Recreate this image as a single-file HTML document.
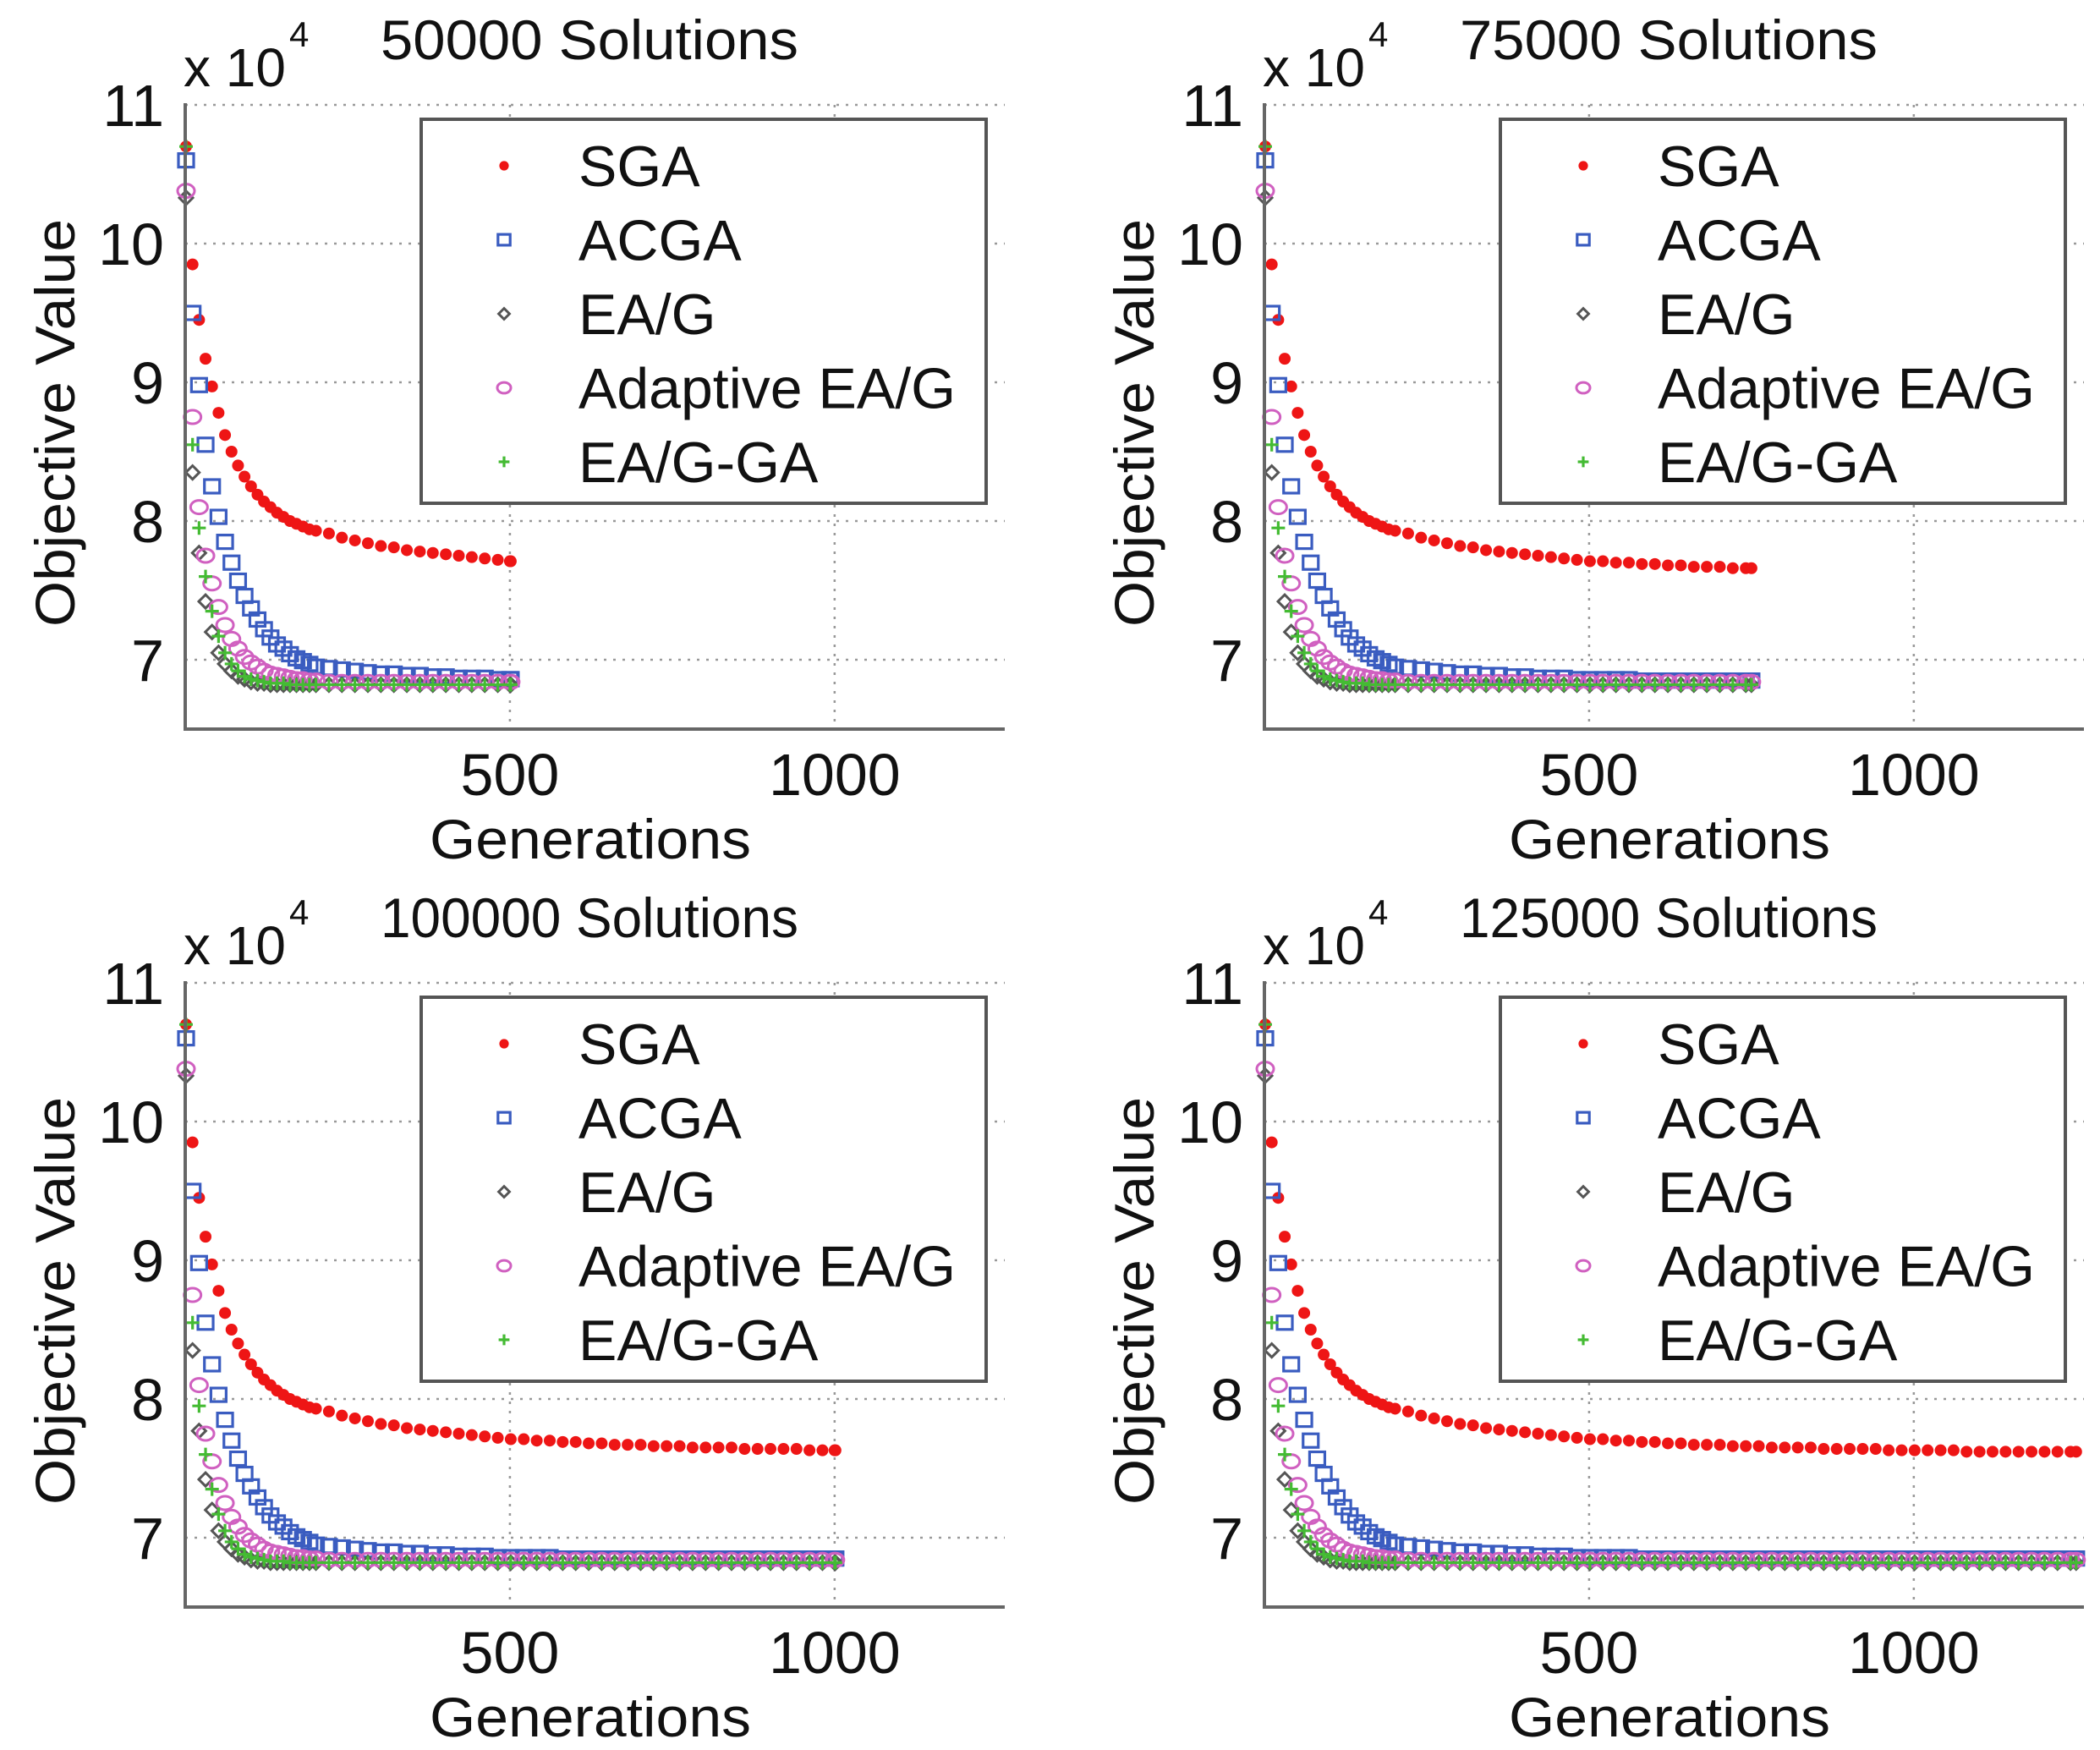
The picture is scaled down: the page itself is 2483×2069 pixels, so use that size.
<!DOCTYPE html>
<html><head><meta charset="utf-8"><style>
html,body{margin:0;padding:0;background:#fff;}
svg{display:block;font-family:"Liberation Sans",Arial,sans-serif;}
</style></head><body>
<svg id="chart" width="2483" height="2069" viewBox="0 0 2483 2069" xmlns="http://www.w3.org/2000/svg"></svg>
<script>
// ---- data ----
const panelTitles = ["50000 Solutions","75000 Solutions","100000 Solutions","125000 Solutions"];
const panelMaxGen = [500, 750, 1000, 1250];
const seriesNames = ["SGA","ACGA","EA/G","Adaptive EA/G","EA/G-GA"];
const yTicks = [7,8,9,10,11];
const xTicks = [500,1000];
// generations: 0..200 step 10, then 220..1240 step 20
const headGens = [0,10,20,30,40,50,60,70,80,90,100,110,120,130,140,150,160,170,180,190,200];
const sgaVals = [10.70,9.85,9.45,9.17,8.97,8.78,8.62,8.50,8.40,8.32,8.25,8.19,8.14,8.10,8.06,8.03,8.00,7.98,7.96,7.94,7.93,
 7.91,7.88,7.86,7.84,7.82,7.81,7.79,7.78,7.77,7.76,7.75,7.74,7.73,7.72,7.71,7.71,7.70,7.70,7.69,7.69,
 7.68,7.68,7.67,7.67,7.67,7.66,7.66,7.66,7.65,7.65,7.65,7.65,7.64,7.64,7.64,7.64,7.64,7.63,7.63,7.63,
 7.63,7.63,7.63,7.62,7.62,7.62,7.62,7.62,7.62,7.62,7.62,7.62];
const acgaVals = [10.60,9.50,8.98,8.55,8.25,8.03,7.85,7.70,7.57,7.46,7.37,7.29,7.22,7.16,7.11,7.08,7.04,7.01,6.99,6.97,6.95,
 6.94,6.93,6.92,6.91,6.90,6.90,6.89,6.89,6.88,6.88,6.87,6.87,6.87,6.86,6.86,6.86,6.86,6.86,6.85,6.85,
 6.85,6.85,6.85,6.85,6.85,6.85,6.85,6.85,6.85,6.85,6.85,6.85,6.85,6.85,6.85,6.85,6.85,6.85,6.85,6.85,
 6.85,6.85,6.85,6.85,6.85,6.85,6.85,6.85,6.85,6.85,6.85,6.85];
const eagVals = [10.33,8.35,7.77,7.42,7.20,7.05,6.97,6.92,6.88,6.86,6.84,6.83,6.83,6.82,6.82,6.82,6.82,6.82,6.82,6.82,6.82,
 6.82,6.82,6.82,6.82,6.82,6.82,6.82,6.82,6.82,6.82,6.82,6.82,6.82,6.82,6.82,6.82,6.82,6.82,6.82,6.82,
 6.82,6.82,6.82,6.82,6.82,6.82,6.82,6.82,6.82,6.82,6.82,6.82,6.82,6.82,6.82,6.82,6.82,6.82,6.82,6.82,
 6.82,6.82,6.82,6.82,6.82,6.82,6.82,6.82,6.82,6.82,6.82,6.82];
const adaptVals = [10.38,8.75,8.10,7.75,7.55,7.38,7.25,7.15,7.08,7.02,6.98,6.95,6.92,6.90,6.89,6.88,6.87,6.86,6.86,6.85,6.85,
 6.84,6.84,6.84,6.84,6.84,6.84,6.84,6.84,6.84,6.84,6.84,6.84,6.84,6.84,6.84,6.84,6.84,6.84,6.84,6.84,
 6.84,6.84,6.84,6.84,6.84,6.84,6.84,6.84,6.84,6.84,6.84,6.84,6.84,6.84,6.84,6.84,6.84,6.84,6.84,6.84,
 6.84,6.84,6.84,6.84,6.84,6.84,6.84,6.84,6.84,6.84,6.84,6.84];
const eaggaVals = [10.70,8.55,7.95,7.60,7.35,7.17,7.05,6.97,6.92,6.88,6.86,6.85,6.84,6.83,6.83,6.83,6.82,6.82,6.82,6.82,6.82,
 6.82,6.82,6.82,6.82,6.82,6.82,6.82,6.82,6.82,6.82,6.82,6.82,6.82,6.82,6.82,6.82,6.82,6.82,6.82,6.82,
 6.82,6.82,6.82,6.82,6.82,6.82,6.82,6.82,6.82,6.82,6.82,6.82,6.82,6.82,6.82,6.82,6.82,6.82,6.82,6.82,
 6.82,6.82,6.82,6.82,6.82,6.82,6.82,6.82,6.82,6.82,6.82,6.82];

const gens = headGens.slice();
for (let g = 220; g <= 1240; g += 20) gens.push(g);
const allSeries = [sgaVals, acgaVals, eagVals, adaptVals, eaggaVals];
const seriesKeys = ["sga","acga","eag","adaptive-eag","eag-ga"];

const NS = "http://www.w3.org/2000/svg";
const svg = document.getElementById("chart");
function mk(tag, attrs, parent) {
  const e = document.createElementNS(NS, tag);
  for (const k in attrs) e.setAttribute(k, attrs[k]);
  (parent || svg).appendChild(e);
  return e;
}

const PW = 1276, PH = 1038;
const AX_L = 219, AX_R = 1188, Y11 = 124, PX_UNIT = 164, AX_B = 862;
const XMAX = 1262;

function marker(g, idx, x, y, scale) {
  const s = scale || 1;
  let e;
  if (idx === 0) {
    e = mk("circle", {cx:x, cy:y, r:7*s, fill:"#ee1515"}, g);
  } else if (idx === 1) {
    e = mk("rect", {x:x-9*s, y:y-8*s, width:18*s, height:16*s, fill:"none", stroke:"#3a5cc0", "stroke-width":3.2}, g);
  } else if (idx === 2) {
    e = mk("path", {d:`M${x-8*s},${y} L${x},${y-8*s} L${x+8*s},${y} L${x},${y+8*s} Z`, fill:"none", stroke:"#555", "stroke-width":3}, g);
  } else if (idx === 3) {
    e = mk("ellipse", {cx:x, cy:y, rx:10*s, ry:8*s, fill:"none", stroke:"#d060c0", "stroke-width":3}, g);
  } else {
    e = mk("path", {d:`M${x-8*s},${y} L${x+8*s},${y} M${x},${y-8*s} L${x},${y+8*s}`, fill:"none", stroke:"#44bb33", "stroke-width":3.2}, g);
  }
  return e;
}

for (let p = 0; p < 4; p++) {
  const ox = (p % 2) * PW, oy = Math.floor(p / 2) * PH;
  const g = mk("g", {transform:`translate(${ox},${oy})`});
  
  
  const xS = v => AX_L + (AX_R - AX_L) * v / XMAX;
  const yS = v => Y11 + (11 - v) * PX_UNIT;

  yTicks.forEach(t => {
    const l = mk("line", {x1:AX_L, x2:AX_R, y1:yS(t), y2:yS(t), stroke:"#999", "stroke-width":2.5, "stroke-dasharray":"3 8"}, g);
    
    
  });
  xTicks.forEach(t => {
    const l = mk("line", {x1:xS(t), x2:xS(t), y1:Y11, y2:AX_B, stroke:"#999", "stroke-width":2.5, "stroke-dasharray":"3 8"}, g);
    
    
  });

  const maxG = panelMaxGen[p];
  for (let s = 0; s < allSeries.length; s++) {
    const sg = mk("g", {}, g);
    
    
    const vals = allSeries[s];
    for (let i = 0; i < gens.length; i++) {
      if (gens[i] > maxG) break;
      const m = marker(sg, s, xS(gens[i]) + 1, yS(vals[i]));
      
      
    }
    const lastIdx = gens.filter(v => v <= maxG).length - 1;
    const fm = marker(sg, s, xS(maxG), yS(vals[lastIdx]));
    
    
  }

  const ax = mk("path", {d:`M${AX_L},${Y11-2} L${AX_L},${AX_B} L${AX_R},${AX_B}`, fill:"none", stroke:"#666", "stroke-width":4}, g);
  
  

  yTicks.forEach(t => {
    const tx = mk("text", {x:194, y:yS(t)+25, "font-size":70, "text-anchor":"end", fill:"#111"}, g);
    tx.textContent = String(t);
    
    
  });
  xTicks.forEach(t => {
    const tx = mk("text", {x:xS(t), y:940, "font-size":70, "text-anchor":"middle", fill:"#111"}, g);
    tx.textContent = String(t);
    
    
  });

  const ex = mk("text", {x:217, y:102, "font-size":64, fill:"#111"}, g);
  ex.textContent = "x 10";
  
  
  const ex4 = mk("text", {x:342, y:55, "font-size":42, fill:"#111"}, g);
  ex4.textContent = "4";
  
  

  const ttl = mk("text", {x:697, y:70, "font-size":66, "text-anchor":"middle", fill:"#111", textLength:494, lengthAdjust:"spacingAndGlyphs"}, g);
  ttl.textContent = panelTitles[p];
  
  

  const xl = mk("text", {x:698, y:1015, "font-size":66, "text-anchor":"middle", fill:"#111", textLength:380, lengthAdjust:"spacingAndGlyphs"}, g);
  xl.textContent = "Generations";
  
  
  const yl = mk("text", {x:0, y:0, "font-size":66, "text-anchor":"middle", fill:"#111", transform:"translate(88,500) rotate(-90)", textLength:482, lengthAdjust:"spacingAndGlyphs"}, g);
  yl.textContent = "Objective Value";
  
  

  const lg = mk("g", {}, g);
  
  
  const lb = mk("rect", {x:498, y:Y11+17, width:668, height:454, fill:"#fff", stroke:"#555", "stroke-width":4}, lg);
  
  
  for (let s = 0; s < seriesNames.length; s++) {
    const cy = Y11 + 72 + s * 87.5;
    const m = marker(lg, s, 596, cy, 0.8);
    
    
    const t = mk("text", {x:684, y:cy+24, "font-size":68, fill:"#111"}, lg);
    t.textContent = seriesNames[s];
    
    
  }
}
</script>
</body></html>
